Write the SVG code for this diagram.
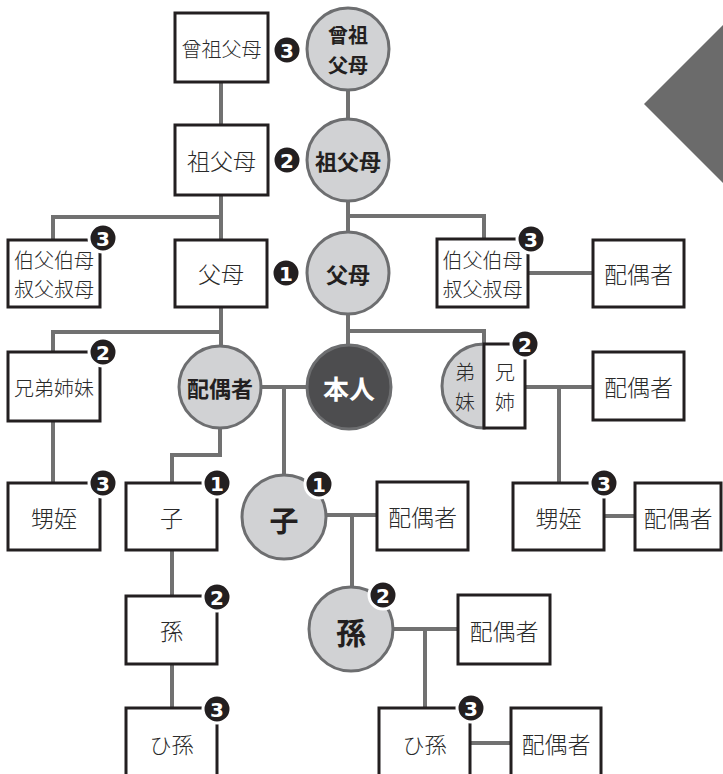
<svg xmlns="http://www.w3.org/2000/svg" width="723" height="774" viewBox="0 0 723 774">
<defs>
<style>
.bx{fill:#fff;stroke:#231f20;stroke-width:3}
.ci{fill:#d1d2d4;stroke:#6d6e70;stroke-width:3}
.me{fill:#4d4d4f;stroke:#6d6e70;stroke-width:3}
.ln{fill:none;stroke:#717171;stroke-width:4}
.t{font-family:"Noto Sans CJK JP","Noto Sans CJK SC",sans-serif;font-weight:300;fill:#2a2a2a;text-anchor:middle;dominant-baseline:central}
.tb{font-family:"Noto Sans CJK JP","Noto Sans CJK SC",sans-serif;font-weight:700;fill:#231f20;text-anchor:middle;dominant-baseline:central}
.bd circle{fill:#231f20;stroke:#fff;stroke-width:3}
.bd text{font-family:"DejaVu Sans",sans-serif;font-weight:700;font-size:20px;fill:#fff;text-anchor:middle;dominant-baseline:central}
</style>
</defs>
<rect width="723" height="774" fill="#fff"/>
<polygon points="644,104 723,25 723,183" fill="#6b6b6b"/>
<g id="connectors" class="ln">
<path d="M221,82V125"/>
<path d="M348,90V119"/>
<path d="M221,195V240M53,240V217H221"/>
<path d="M348,201V232M348,216H484V239"/>
<path d="M528,273H593"/>
<path d="M221,307V346M53,352V332H221"/>
<path d="M348,314V345M348,331H484V344"/>
<path d="M53,421V483"/>
<path d="M261,387H307M284,387V475"/>
<path d="M220,428V455H172V483"/>
<path d="M525,387H593M559,387V483"/>
<path d="M604,516H635"/>
<path d="M326,515H377M352,515V587"/>
<path d="M172,550V596M172,664V708"/>
<path d="M393,629H458M425,629V708"/>
<path d="M470,743H511"/>
</g>
<g id="n-sosofubo-box"><rect class="bx" x="175" y="13" width="93" height="69"/><text class="t" x="221.5" y="48" font-size="20">曾祖父母</text></g>
<g id="n-sofubo-box"><rect class="bx" x="175" y="125" width="93" height="70"/><text class="t" x="221.5" y="160" font-size="23">祖父母</text></g>
<g id="n-oji-left"><rect class="bx" x="8" y="240" width="92" height="67"/><text class="t" x="54" y="259" font-size="20">伯父伯母</text><text class="t" x="54" y="288" font-size="20">叔父叔母</text></g>
<g id="n-fubo-box"><rect class="bx" x="175" y="240" width="92" height="67"/><text class="t" x="221" y="273" font-size="23">父母</text></g>
<g id="n-kyodai-left"><rect class="bx" x="8" y="352" width="92" height="69"/><text class="t" x="54" y="387" font-size="20">兄弟姉妹</text></g>
<g id="n-oimei-left"><rect class="bx" x="8" y="483" width="92" height="67"/><text class="t" x="54" y="517" font-size="23">甥姪</text></g>
<g id="n-ko-box"><rect class="bx" x="126" y="483" width="91" height="67"/><text class="t" x="171.5" y="517" font-size="23">子</text></g>
<g id="n-mago-box"><rect class="bx" x="126" y="596" width="91" height="68"/><text class="t" x="171.5" y="630" font-size="23">孫</text></g>
<g id="n-himago-left"><rect class="bx" x="126" y="708" width="91" height="80"/><text class="t" x="171.5" y="743" font-size="22">ひ孫</text></g>
<g id="n-sosofubo-c"><circle class="ci" cx="348" cy="49" r="41"/><text class="tb" x="348" y="34" font-size="20">曾祖</text><text class="tb" x="348" y="64" font-size="20">父母</text></g>
<g id="n-sofubo-c"><circle class="ci" cx="348" cy="160" r="41"/><text class="tb" x="348" y="160" font-size="22">祖父母</text></g>
<g id="n-fubo-c"><circle class="ci" cx="348" cy="273" r="41"/><text class="tb" x="348" y="273" font-size="22">父母</text></g>
<g id="n-haigusha-c"><circle class="ci" cx="220" cy="387" r="41"/><text class="tb" x="220" y="387" font-size="22">配偶者</text></g>
<g id="n-honnin"><circle class="me" cx="349" cy="387" r="42"/><text class="tb" x="349" y="387" font-size="26" style="fill:#fff">本人</text></g>
<g id="n-ko-c"><circle class="ci" cx="284" cy="517" r="42"/><text class="tb" x="284" y="519" font-size="29">子</text></g>
<g id="n-mago-c"><circle class="ci" cx="351" cy="629" r="42"/><text class="tb" x="351" y="631" font-size="30">孫</text></g>
<g id="n-oji-right"><rect class="bx" x="437" y="239" width="91" height="68"/><text class="t" x="482.5" y="259" font-size="20">伯父伯母</text><text class="t" x="482.5" y="288" font-size="20">叔父叔母</text></g>
<g id="n-oji-spouse"><rect class="bx" x="593" y="240" width="91" height="67"/><text class="t" x="638.5" y="273" font-size="23">配偶者</text></g>
<g id="n-kyodai-right"><path class="ci" d="M484,344A42,42 0 0 0 484,428Z"/><rect class="bx" x="484" y="344" width="41" height="84"/><text class="t" x="465" y="371" font-size="20">弟</text><text class="t" x="465" y="401" font-size="20">妹</text><text class="t" x="505" y="371" font-size="20">兄</text><text class="t" x="505" y="401" font-size="20">姉</text></g>
<g id="n-kyodai-spouse"><rect class="bx" x="593" y="352" width="91" height="68"/><text class="t" x="638.5" y="386" font-size="23">配偶者</text></g>
<g id="n-oimei-right"><rect class="bx" x="513" y="483" width="91" height="67"/><text class="t" x="558.5" y="517" font-size="23">甥姪</text></g>
<g id="n-oimei-spouse"><rect class="bx" x="635" y="483" width="86" height="67"/><text class="t" x="678" y="517" font-size="23">配偶者</text></g>
<g id="n-ko-spouse"><rect class="bx" x="377" y="482" width="91" height="68"/><text class="t" x="422.5" y="516" font-size="23">配偶者</text></g>
<g id="n-mago-spouse"><rect class="bx" x="458" y="595" width="92" height="69"/><text class="t" x="504" y="630" font-size="23">配偶者</text></g>
<g id="n-himago-right"><rect class="bx" x="379" y="708" width="91" height="80"/><text class="t" x="424.5" y="743" font-size="22">ひ孫</text></g>
<g id="n-himago-spouse"><rect class="bx" x="511" y="708" width="90" height="80"/><text class="t" x="556" y="743" font-size="23">配偶者</text></g>
<g id="badges" class="bd">
<g><circle cx="287" cy="50" r="14"/><text x="287" y="51">3</text></g>
<g><circle cx="287" cy="160" r="14"/><text x="287" y="161">2</text></g>
<g><circle cx="103" cy="238" r="14"/><text x="103" y="239">3</text></g>
<g><circle cx="286" cy="273" r="14"/><text x="286" y="274">1</text></g>
<g><circle cx="103" cy="352" r="14"/><text x="103" y="353">2</text></g>
<g><circle cx="103" cy="483" r="14"/><text x="103" y="484">3</text></g>
<g><circle cx="217" cy="483" r="14"/><text x="217" y="484">1</text></g>
<g><circle cx="217" cy="597" r="14"/><text x="217" y="598">2</text></g>
<g><circle cx="217" cy="709" r="14"/><text x="217" y="710">3</text></g>
<g><circle cx="319" cy="484" r="14"/><text x="319" y="485">1</text></g>
<g><circle cx="383" cy="595" r="14"/><text x="383" y="596">2</text></g>
<g><circle cx="531" cy="239" r="14"/><text x="531" y="240">3</text></g>
<g><circle cx="525" cy="344" r="14"/><text x="525" y="345">2</text></g>
<g><circle cx="604" cy="483" r="14"/><text x="604" y="484">3</text></g>
<g><circle cx="471" cy="708" r="14"/><text x="471" y="709">3</text></g>
</g>
</svg>
